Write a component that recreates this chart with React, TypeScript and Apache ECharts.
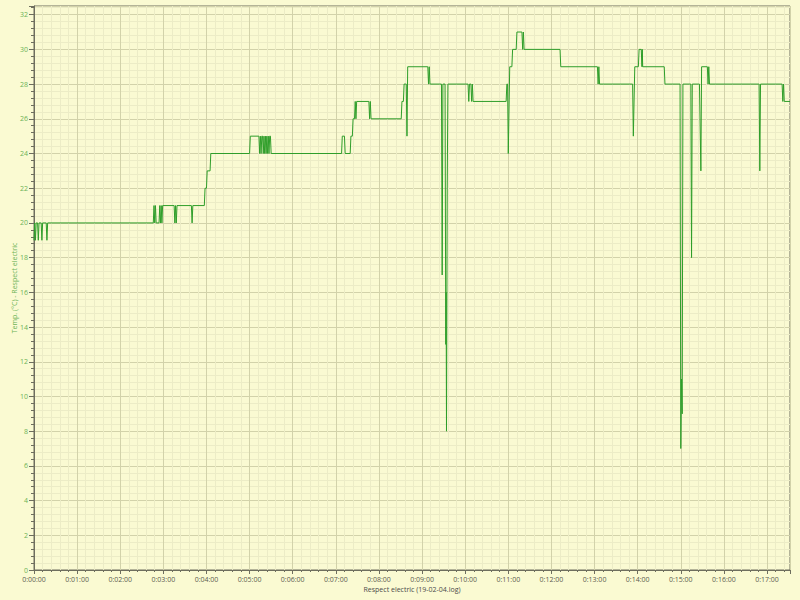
import React, { useEffect, useRef } from "react";
import * as echarts from "echarts";

const TIMES = [
  0, 1, 2, 3, 5, 6, 7, 10, 11, 12, 17, 18, 19,
  166, 167, 168, 169, 170, 174, 175, 176, 177, 178, 179,
  195, 196, 197, 198, 199, 219, 220, 221,
  237, 238, 240, 241, 245, 246,
  300, 301, 313, 314, 315, 316, 317, 318, 319, 320, 321, 322, 323, 324, 325, 326, 327, 328, 329, 330,
  428, 429, 432, 433,
  440, 441, 443, 444, 446, 447, 448, 449,
  466, 467, 468, 469,
  511, 512, 514, 515, 518, 519, 520,
  548, 549, 550, 551,
  567, 568, 569, 572, 573, 573.5, 574, 575, 576,
  604, 605, 606, 608, 609, 610, 611,
  657, 658, 659, 660, 662, 665, 666, 671, 672, 679, 680, 681, 682,
  732, 733,
  784, 785, 786, 787,
  833, 834, 836, 841, 842, 845, 846, 846.5, 847,
  877, 878,
  899, 900, 901, 902, 903,
  914, 915, 916,
  926, 928, 929,
  937, 938, 939, 940,
  1009, 1010, 1011,
  1041, 1042, 1043, 1044, 1052,
];

const TEMPS = [
  19, 20, 19, 20, 20, 19, 20, 20, 19, 20, 20, 19, 20,
  20, 21, 20, 21, 20, 20, 21, 20, 21, 20, 21,
  21, 20, 21, 20, 21, 21, 20, 21,
  21, 22, 22, 23, 23, 24,
  24, 25, 25, 24, 25, 24, 25, 25, 24, 25, 24, 25, 24, 25, 24, 25, 24, 25, 25, 24,
  24, 25, 25, 24,
  24, 25, 25, 26, 26, 27, 26, 27,
  27, 26, 27, 26,
  26, 27, 27, 28, 28, 25, 29,
  29, 28, 29, 28,
  28, 17, 28, 28, 13, 16, 8, 22, 28,
  28, 27, 28, 28, 27, 28, 27,
  27, 28, 28, 24, 29, 29, 30, 30, 31, 31, 30, 31, 30,
  30, 29,
  29, 28, 29, 28,
  28, 25, 29, 29, 30, 30, 29, 30, 29,
  29, 28,
  28, 7, 11, 9, 28,
  28, 18, 28,
  28, 23, 29,
  29, 28, 29, 28,
  28, 23, 28,
  28, 27, 28, 27, 27,
];

const X_MAX = 1052;
const Y_MAX = 32.5;
const X_NAME = "Respect electric (19-02-04.log)";
const Y_NAME = "Temp. (°C) - Respect electric";

function fmtTime(s: number): string {
  const h = Math.floor(s / 3600);
  const m = Math.floor((s % 3600) / 60);
  const sec = Math.round(s % 60);
  return `${h}:${String(m).padStart(2, "0")}:${String(sec).padStart(2, "0")}`;
}

export default function App() {
  const ref = useRef<HTMLDivElement>(null);
  useEffect(() => {
    if (!ref.current) return;
    const chart = echarts.init(ref.current, undefined, { renderer: "svg" });
    const font = "Open Sans";
    const axisCol = "#6e6e5e";
    const data = TIMES.map((t, i) => [t, TEMPS[i]]);
    chart.setOption({
      animation: false,
      backgroundColor: "#FAFAD2",
      grid: {
        left: 34,
        right: 10,
        top: 6,
        bottom: 30,
        containLabel: false,
        outerBoundsMode: "none",
        show: true,
        borderColor: axisCol,
        borderWidth: 1,
      },
      xAxis: {
        type: "value",
        min: 0,
        max: X_MAX,
        interval: 60,
        name: X_NAME,
        nameLocation: "middle",
        nameGap: 16,
        nameMoveOverlap: false,
        nameTextStyle: { color: "#4a4a4a", fontSize: 7, fontFamily: font },
        axisLine: { show: true, lineStyle: { color: axisCol, width: 1 } },
        axisTick: { show: true, length: 4, lineStyle: { color: axisCol } },
        minorTick: { show: true, splitNumber: 5, length: 2, lineStyle: { color: axisCol } },
        axisLabel: {
          color: "#5a5a50",
          fontSize: 7,
          fontFamily: font,
          margin: 6,
          showMaxLabel: false,
          formatter: (v: number) => fmtTime(v),
        },
        splitLine: { show: true, lineStyle: { color: "#d2d2aa", width: 1 } },
        minorSplitLine: { show: true, lineStyle: { color: "#ececc6", width: 1 } },
      },
      yAxis: {
        type: "value",
        min: 0,
        max: Y_MAX,
        interval: 2,
        name: Y_NAME,
        nameLocation: "middle",
        nameGap: 16,
        nameMoveOverlap: false,
        nameTextStyle: { color: "#6db356", fontSize: 7, fontFamily: font },
        axisLine: { show: true, lineStyle: { color: axisCol, width: 1 } },
        axisTick: { show: true, length: 5, lineStyle: { color: axisCol } },
        minorTick: { show: true, splitNumber: 5, length: 3, lineStyle: { color: axisCol } },
        axisLabel: {
          color: "#6db356",
          fontSize: 7,
          fontFamily: font,
          margin: 6,
          showMaxLabel: false,
          formatter: (v: number) => String(v),
        },
        splitLine: { show: true, lineStyle: { color: "#d2d2aa", width: 1 } },
        minorSplitLine: { show: true, lineStyle: { color: "#ececc6", width: 1 } },
      },
      series: [
        {
          type: "line",
          data,
          showSymbol: false,
          symbol: "none",
          lineStyle: { color: "#2f9e2a", width: 1 },
          itemStyle: { color: "#2f9e2a" },
        },
      ],
    });
    return () => chart.dispose();
  }, []);
  return (
    <div
      ref={ref}
      style={{ position: "fixed", left: 0, top: 0, width: 800, height: 600 }}
    />
  );
}
